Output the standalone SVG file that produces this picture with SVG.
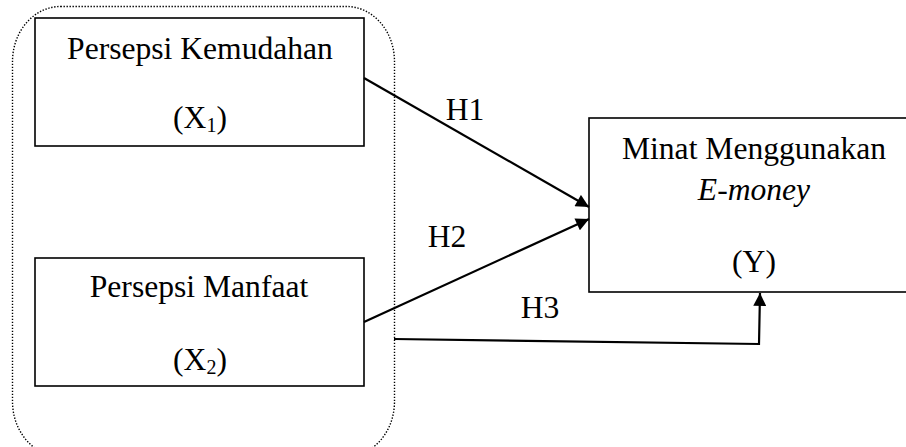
<svg xmlns="http://www.w3.org/2000/svg" width="906" height="447" viewBox="0 0 906 447">
<defs>
<style>
.box{fill:#fff;stroke:#000;stroke-width:1.6}
.t{font-family:"Liberation Serif","Times New Roman",serif;font-size:31.6px;fill:#000;text-anchor:middle}
.sub{font-size:20px}
.c{fill:none;stroke:#000;stroke-width:2.2}
.grp{fill:none;stroke:#000;stroke-width:1.4;stroke-dasharray:1.4 1.6}
</style>
<marker id="ah" viewBox="0 0 10 10" refX="10" refY="5" markerWidth="15" markerHeight="13" markerUnits="userSpaceOnUse" orient="auto">
<path d="M0,0 L10,5 L0,10 Z" fill="#000"/>
</marker>
</defs>
<rect width="906" height="447" fill="#fff"/>
<g id="group">
<rect class="grp" x="12.5" y="6.5" width="382" height="450" rx="48" ry="55"/>
</g>
<g id="x1">
<rect class="box" x="35" y="18" width="329" height="128"/>
<text class="t" x="200" y="59">Persepsi Kemudahan</text>
<text class="t" x="200" y="128">(X<tspan class="sub" dy="4">1</tspan><tspan dy="-4">)</tspan></text>
</g>
<g id="x2">
<rect class="box" x="35" y="258" width="329" height="128"/>
<text class="t" x="199" y="297">Persepsi Manfaat</text>
<text class="t" x="200" y="370">(X<tspan class="sub" dy="4">2</tspan><tspan dy="-4">)</tspan></text>
</g>
<g id="y">
<rect class="box" x="589" y="118" width="330" height="174"/>
<text class="t" x="754" y="159">Minat Menggunakan</text>
<text class="t" x="754" y="200" font-style="italic">E-money</text>
<text class="t" x="754" y="272">(Y)</text>
</g>
<g id="connectors">
<line class="c" x1="364" y1="78" x2="589" y2="207" marker-end="url(#ah)"/>
<line class="c" x1="364" y1="322" x2="589" y2="219" marker-end="url(#ah)"/>
<polyline class="c" points="394,339 759,344 760,293" marker-end="url(#ah)"/>
<text class="t" x="465" y="120">H1</text>
<text class="t" x="447" y="247">H2</text>
<text class="t" x="540" y="318">H3</text>
</g>
</svg>
